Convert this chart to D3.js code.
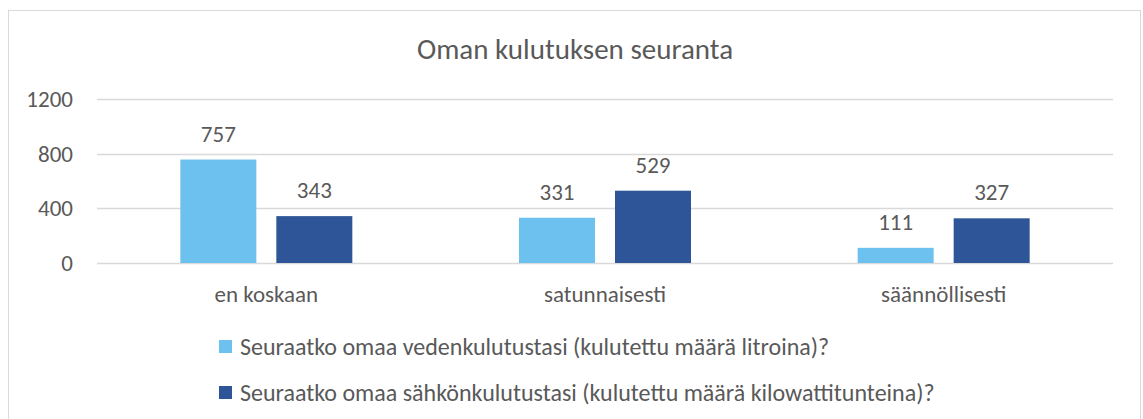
<!DOCTYPE html>
<html>
<head>
<meta charset="utf-8">
<script src="https://cdn.jsdelivr.net/npm/d3@7"></script>
<style>
  body { margin: 0; background: #fff; }
  svg text { font-family: Carlito, "Open Sans", "Noto Sans", sans-serif; fill: #595959; }
</style>
</head>
<body>
<svg id="chart" width="1143" height="419"></svg>
<script>
// Chart data
const categories = ['en koskaan', 'satunnaisesti', 'säännöllisesti'];
const seriesNames = [
    'Seuraatko omaa vedenkulutustasi (kulutettu määrä litroina)?',
    'Seuraatko omaa sähkönkulutustasi (kulutettu määrä kilowattitunteina)?'
];
const waterValues = [757, 331, 111];
const powerValues = [343, 529, 327];
const yTicks = [0, 400, 800, 1200];
const colors = ['#6dc1ee', '#2e5597'];

const svg = d3.select('#chart');

// outer border
svg.append('rect')
    .attr('x', 8.5).attr('y', 10.5)
    .attr('width', 1132).attr('height', 420)
    .attr('fill', 'none')
    .attr('stroke', '#d9d9d9');

const margin = { top: 99, left: 97 };
const width = 1113 - margin.left;
const height = 263 - margin.top;

const g = svg.append('g')
    .attr('transform', `translate(${margin.left},${margin.top})`);

const x0 = d3.scaleBand()
    .domain(categories)
    .range([0, width]);

const x1 = d3.scaleBand()
    .domain([0, 1])
    .range([x0.bandwidth() / 2 - 86, x0.bandwidth() / 2 + 86])
    .paddingInner(0.2083);

const y = d3.scaleLinear()
    .domain([0, 1200])
    .range([height, 0]);

// gridlines
g.selectAll('.grid')
    .data(yTicks)
    .enter()
    .append('line')
    .attr('x1', 0).attr('x2', width)
    .attr('y1', d => Math.round(y(d)) + 0.5)
    .attr('y2', d => Math.round(y(d)) + 0.5)
    .attr('stroke', '#d9d9d9')
    .attr('stroke-width', 1.5);

// y axis labels
g.selectAll('.ytick')
    .data(yTicks)
    .enter()
    .append('text')
    .attr('x', -24)
    .attr('y', d => y(d))
    .attr('dy', '0.35em')
    .attr('text-anchor', 'end')
    .style('font-size', '23px')
    .text(d => d);

const rows = categories.map((c, i) => ({ cat: c, vals: [waterValues[i], powerValues[i]] }));

const groups = g.selectAll('.group')
    .data(rows)
    .enter()
    .append('g')
    .attr('transform', d => `translate(${x0(d.cat)},0)`);

groups.selectAll('rect')
    .data(d => d.vals.map((v, k) => ({ k, v })))
    .enter()
    .append('rect')
    .attr('x', d => x1(d.k))
    .attr('width', x1.bandwidth())
    .attr('y', d => y(d.v))
    .attr('height', d => height - y(d.v))
    .attr('fill', d => colors[d.k]);

groups.selectAll('.value-label')
    .data(d => d.vals.map((v, k) => ({ k, v })))
    .enter()
    .append('text')
    .attr('x', d => x1(d.k) + x1.bandwidth() / 2)
    .attr('y', d => y(d.v) - 18)
    .attr('text-anchor', 'middle')
    .style('font-size', '23px')
    .text(d => d.v);

// category labels
g.selectAll('.cat')
    .data(categories)
    .enter()
    .append('text')
    .attr('x', d => x0(d) + x0.bandwidth() / 2)
    .attr('y', height + 39)
    .attr('text-anchor', 'middle')
    .style('font-size', '23px')
    .text(d => d);

// title
svg.append('text')
    .attr('x', 575)
    .attr('y', 59)
    .attr('text-anchor', 'middle')
    .style('font-size', '29px')
    .text('Oman kulutuksen seuranta');

// legend
const legend = svg.append('g');
seriesNames.forEach((name, i) => {
    const ly = 340 + i * 46;
    legend.append('rect')
        .attr('x', 219).attr('y', ly)
        .attr('width', 13).attr('height', 13)
        .attr('fill', colors[i]);
    legend.append('text')
        .attr('x', 240).attr('y', ly + 15)
        .style('font-size', '24px')
        .text(name);
});
</script>
</body>
</html>
